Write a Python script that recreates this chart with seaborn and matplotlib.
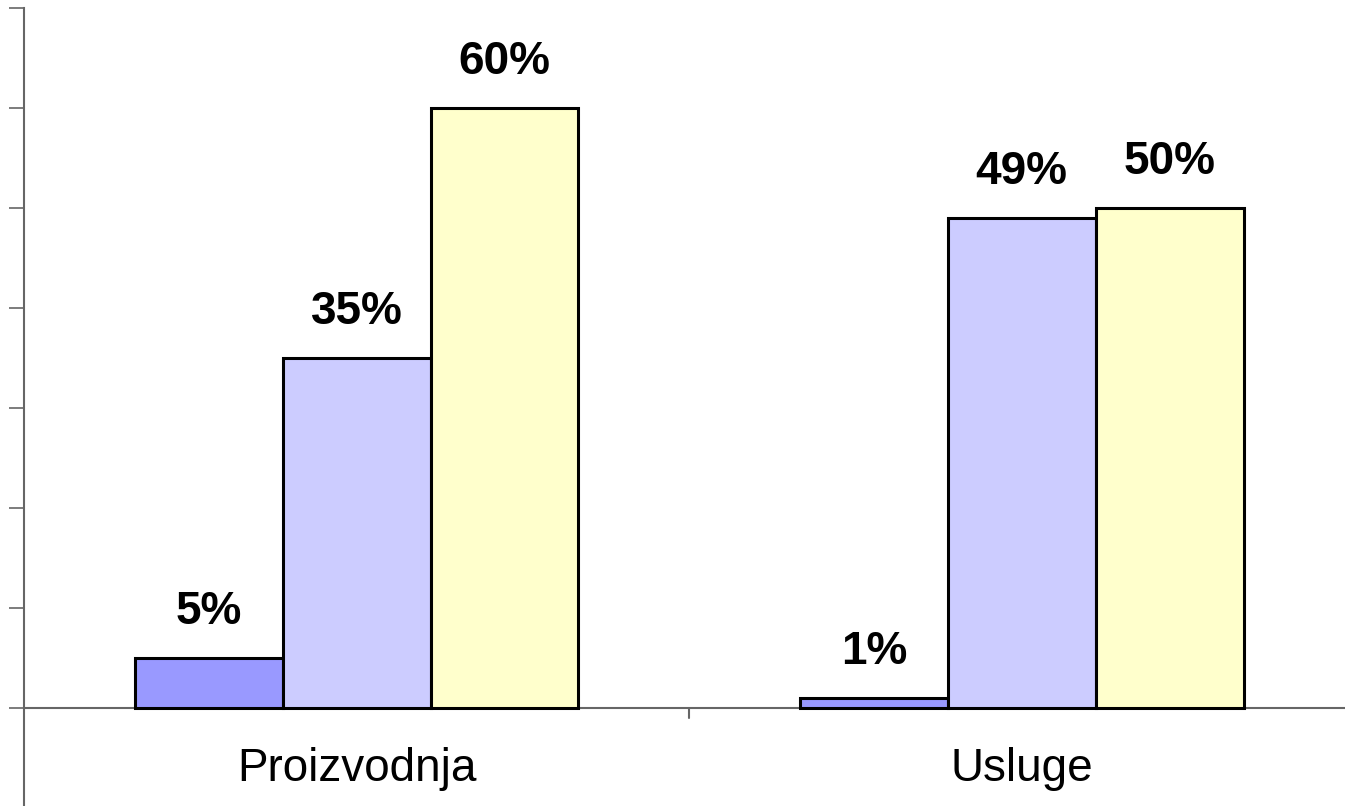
import matplotlib.pyplot as plt
import numpy as np
import pandas as pd
import seaborn as sns

categories = ['Proizvodnja', 'Usluge']
series = ['Serija 1', 'Serija 2', 'Serija 3']
values_1 = [5, 1]
values_2 = [35, 49]
values_3 = [60, 50]
colors = ['#9999FF', '#CCCCFF', '#FFFFCC']

df = pd.DataFrame({
    'Kategorija': categories * 3,
    'Serija': [s for s in series for _ in categories],
    'Vrijednost': values_1 + values_2 + values_3,
})

sns.set_style('white')
plt.rcParams['font.family'] = ['Liberation Sans', 'DejaVu Sans']

W, H = 1345, 806
fig = plt.figure(figsize=(W / 100, H / 100), dpi=100)
ax = fig.add_axes([24 / W, 0, 1 - 24 / W, 798 / H])

sns.barplot(data=df, x='Kategorija', y='Vrijednost', hue='Serija',
            palette=colors, width=0.667, gap=0, edgecolor='black',
            linewidth=2.2, saturation=1, legend=False, ax=ax)

for c in ax.containers:
    ax.bar_label(c, fmt='%g%%', padding=17, fontsize=33,
                 fontweight='bold', color='black')

axis_col = '#666666'
ax.set_ylim(-9.8, 70)
ax.set_xlim(-0.5, 1.486)
ax.axhline(0, color=axis_col, lw=1.5, zorder=0.5)

for side in ['top', 'right', 'bottom']:
    ax.spines[side].set_visible(False)
ax.spines['left'].set_color(axis_col)
ax.spines['left'].set_linewidth(1.5)

ax.set_yticks(np.arange(0, 71, 10))
ax.set_yticklabels([])
ax.tick_params(axis='y', left=True, length=11, width=1.2, color=axis_col)

ax.set_xticks([0, 1])
ax.set_xticklabels(categories, fontsize=33, color='black')
ax.tick_params(axis='x', bottom=False, pad=-46)
ax.set_xticks([0.5], minor=True)
ax.tick_params(axis='x', which='minor', bottom=False)
# small separator tick hanging from the zero line
ax.plot([0.5, 0.5], [0, -1.0], color=axis_col, lw=1.5, clip_on=False)

ax.set_xlabel('')
ax.set_ylabel('')

fig.savefig('out.png', dpi=100)
